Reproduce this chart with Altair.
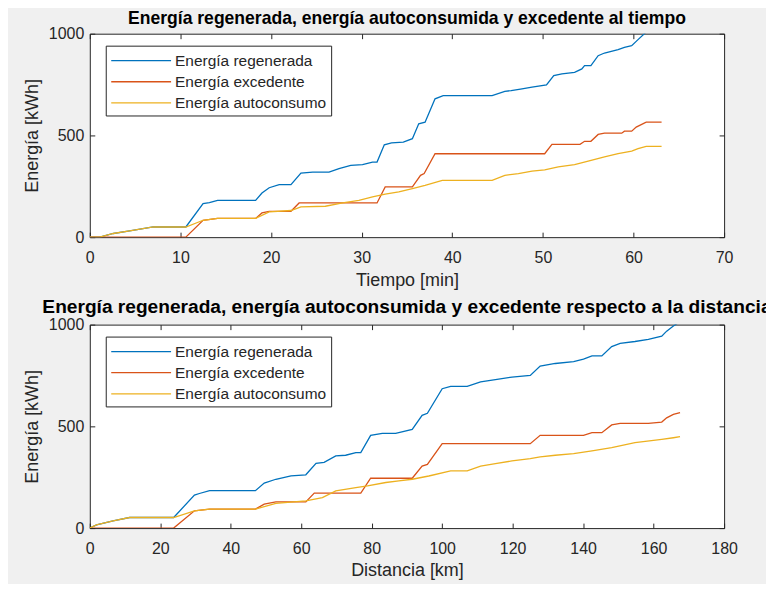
import altair as alt
import pandas as pd

SERIES = ["Energía regenerada", "Energía excedente", "Energía autoconsumo"]
COLORS = ["#0072BD", "#D95319", "#EDB120"]

# ---- Top panel: energy vs time [min] ----
t_regen = [0, 1.1, 2.6, 4.4, 7.0, 10.6, 12.5, 13.2, 14.1, 18.3, 19.0, 19.8, 20.9, 22.2, 23.3, 24.6,
           26.4, 27.5, 28.8, 30.1, 31.2, 31.7, 32.5, 33.3, 34.6, 35.6, 36.3, 37.0, 38.1, 39.0, 44.4,
           45.8, 46.5, 47.7, 48.8, 50.4, 51.2, 52.1, 53.5, 54.3, 54.6, 55.3, 56.1, 56.8, 58.3, 59.0,
           59.8, 60.5, 61.4, 63.1]
e_regen_t = [0, 0, 18, 31, 50, 50, 165, 170, 181, 181, 217, 243, 258, 258, 315, 320,
             320, 337, 353, 356, 369, 369, 454, 463, 467, 484, 557, 565, 680, 696, 696,
             717, 720, 729, 737, 748, 794, 802, 810, 827, 843, 843, 892, 905, 922, 933,
             941, 971, 1008, 1008]

t_exc = [0, 10.6, 12.5, 14.1, 18.3, 19.0, 19.8, 22.2, 23.1, 31.7, 32.6, 35.6, 36.5, 36.9, 38.1,
         50.2, 51.0, 54.1, 54.6, 55.3, 56.1, 56.8, 58.7, 59.0, 59.8, 60.3, 61.4, 63.1]
e_exc_t = [0, 0, 83, 92, 92, 119, 127, 127, 168, 168, 247, 247, 304, 313, 410,
           410, 456, 456, 471, 471, 505, 511, 511, 521, 521, 541, 565, 565]

t_auto = [0, 1.1, 2.6, 4.4, 7.0, 10.6, 12.5, 14.1, 18.3, 19.8, 22.2, 23.3, 26.0, 27.9, 29.7,
          31.2, 32.6, 34.1, 35.6, 37.0, 38.9, 44.4, 45.8, 47.3, 48.8, 50.2, 51.7, 53.5, 55.0,
          56.8, 58.3, 59.8, 60.5, 61.4, 63.1]
e_auto_t = [0, 0, 18, 31, 50, 50, 83, 92, 92, 124, 131, 149, 152, 168, 181,
            198, 211, 222, 239, 255, 279, 279, 304, 312, 325, 331, 345, 356, 374,
            394, 410, 423, 435, 446, 446]

# ---- Bottom panel: energy vs distance [km] ----
d_regen = [0, 1.9, 6.6, 11.3, 23.8, 29.7, 31.1, 34.0, 47.0, 49.5, 52.8, 57.1, 61.3, 64.2, 66.5,
           69.8, 72.6, 75.5, 76.9, 79.7, 83.0, 86.8, 91.5, 94.3, 95.8, 100.0, 102.4, 107.1, 110.9,
           115.1, 119.8, 125.0, 127.8, 132.1, 137.3, 140.1, 142.5, 145.3, 148.1, 150.5, 154.7,
           158.5, 162.3, 163.7, 165.6, 167.5]
e_regen_d = [0, 16, 36, 52, 52, 162, 170, 184, 184, 221, 240, 257, 262, 318, 323,
             355, 358, 371, 371, 456, 466, 466, 485, 554, 564, 685, 697, 697, 719,
             730, 742, 750, 796, 809, 818, 830, 846, 846, 892, 908, 917,
             927, 943, 968, 993, 1015]

d_exc = [0, 23.8, 29.7, 34.0, 47.0, 49.5, 52.8, 61.3, 63.7, 76.9, 79.7, 91.5, 94.3, 95.8, 100.0,
         125.0, 127.8, 140.1, 142.5, 145.3, 148.1, 150.5, 158.5, 162.3, 163.7, 165.6, 167.5]
e_exc_d = [0, 0, 85, 93, 93, 118, 129, 129, 172, 172, 245, 245, 305, 313, 415,
           415, 456, 456, 469, 469, 507, 515, 515, 521, 542, 559, 567]

d_auto = [0, 1.9, 6.6, 11.3, 23.8, 29.7, 34.0, 47.0, 52.8, 61.3, 66.0, 69.8, 75.5, 78.8, 84.0,
          87.7, 91.5, 96.2, 102.4, 107.1, 110.9, 115.1, 119.8, 125.0, 127.8, 132.1, 137.3,
          142.5, 148.1, 154.7, 162.3, 165.6, 167.5]
e_auto_d = [0, 16, 36, 52, 52, 85, 93, 93, 121, 134, 150, 183, 199, 207, 224,
            232, 240, 256, 281, 281, 305, 317, 330, 341, 350, 358, 366,
            379, 395, 420, 436, 444, 449]

TITLE_TOP = "Energía regenerada, energía autoconsumida y excedente al tiempo"
TITLE_BOT = "Energía regenerada, energía autoconsumida y excedente respecto a la distancia"
XTICKS_TOP = [0, 10, 20, 30, 40, 50, 60, 70]
XTICKS_BOT = [0, 20, 40, 60, 80, 100, 120, 140, 160, 180]
YTICKS = [0, 500, 1000]

W, H = 636, 204
FONT = "Liberation Sans"
AX = "#262626"


def frame(xs_list, es_list):
    rows = []
    for name, xs, es in zip(SERIES, xs_list, es_list):
        for x, e in zip(xs, es):
            rows.append({"x": x, "E": e, "serie": name})
    return pd.DataFrame(rows)


def panel(df, xdom, xticks, xtitle, title, title_size, title_offset):
    legend = alt.Legend(
        title=None, orient="none", legendX=16, legendY=12,
        symbolType="M-3,0H3", symbolSize=400, symbolStrokeWidth=1.3,
        symbolOffset=20.5, labelOffset=23, labelFontSize=15.5, labelFont=FONT,
        labelColor=AX, padding=4, rowPadding=1.2, strokeColor=AX, fillColor="white",
        labelExpr="datum.label + '\u00a0\u00a0\u00a0\u00a0\u00a0\u00a0\u00a0'",
    )
    xaxis = alt.Axis(values=xticks, title=xtitle, grid=True, gridColor=AX, gridOpacity=1,
                     gridDash=[5, H - 10, 5, 1000], ticks=False, domain=False, format="d",
                     labelPadding=12, labelFontSize=16, labelFont=FONT, labelColor=AX,
                     titleFontSize=18, titleFont=FONT, titleFontWeight="normal",
                     titleColor=AX, titlePadding=6, labelFlush=False)
    yaxis = alt.Axis(values=YTICKS, title="Energía [kWh]", grid=True, gridColor=AX,
                     gridOpacity=1, gridDash=[5, W - 10, 5, 1000], ticks=False, domain=False,
                     format="d", labelPadding=6, labelFontSize=16, labelFont=FONT, labelColor=AX,
                     titleFontSize=18, titleFont=FONT, titleFontWeight="normal",
                     titleColor=AX, titlePadding=7, labelFlush=False)
    layers = []
    for name in SERIES:
        layers.append(
            alt.Chart(df[df["serie"] == name]).mark_line(clip=True, strokeWidth=1.3).encode(
                x=alt.X("x:Q", scale=alt.Scale(domain=xdom, nice=False, zero=False), axis=xaxis),
                y=alt.Y("E:Q", scale=alt.Scale(domain=[0, 1000], nice=False), axis=yaxis),
                color=alt.Color("serie:N", scale=alt.Scale(domain=SERIES, range=COLORS),
                                legend=legend),
            )
        )
    return alt.layer(*layers).properties(
        width=W, height=H,
        title=alt.TitleParams(title, fontSize=title_size, fontWeight="bold", font=FONT,
                              color="black", anchor="middle", frame="group",
                              offset=title_offset),
    )


top = panel(frame([t_regen, t_exc, t_auto], [e_regen_t, e_exc_t, e_auto_t]),
            [0, 70], XTICKS_TOP, "Tiempo [min]", TITLE_TOP, 17.6, -1.6)
bot = panel(frame([d_regen, d_exc, d_auto], [e_regen_d, e_exc_d, e_auto_d]),
            [0, 180], XTICKS_BOT, "Distancia [km]", TITLE_BOT, 19.2, -0.8)

chart = alt.vconcat(top, bot, spacing=7.7).resolve_scale(color="independent").resolve_legend(
    color="independent"
).configure(
    background="#f0f0f0",
    padding={"left": 14, "top": 0, "right": -7, "bottom": 2},
).configure_view(stroke=AX, strokeWidth=1, fill="white")

chart.save("out.html", embed_options={"renderer": "svg", "actions": False})
